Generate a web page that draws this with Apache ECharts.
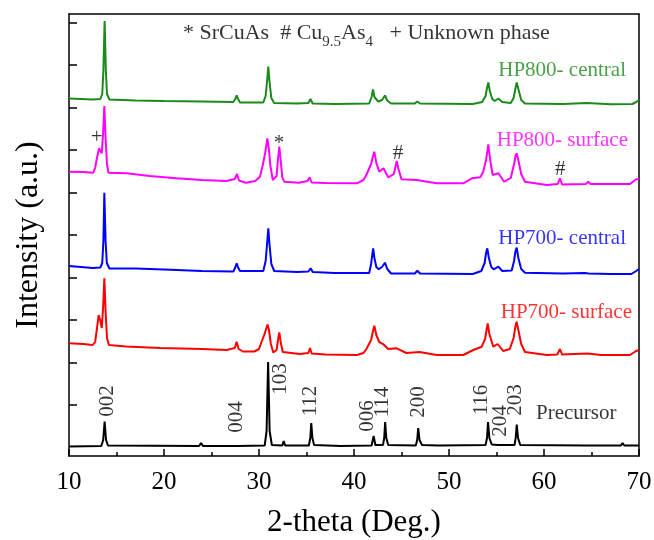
<!DOCTYPE html>
<html><head><meta charset="utf-8">
<script src="https://cdn.jsdelivr.net/npm/echarts@6/dist/echarts.min.js"></script>
<style>html,body{margin:0;padding:0;background:#fff}#c{width:654px;height:540px}</style>
</head><body><div id="c"></div>
<script>
// XRD patterns: [2-theta (deg), intensity (a.u., stacked as plotted)]
const hp800Central = [[10,357.5],[12.5,356.5],[13.3,357],[13.5,362],[13.62,385],[13.75,435],[13.88,385],[14.0,362],[14.25,356.5],[17,355.5],[20,355],[24,354.5],[27.3,354],[27.5,357],[27.65,360.5],[27.8,357],[28.0,353.5],[30.45,353.5],[30.7,360],[30.85,375],[30.98,389.5],[31.1,375],[31.3,358],[31.6,353],[34,352.5],[35.2,353],[35.42,357],[35.65,352.5],[38,352],[41.6,352.5],[41.85,359],[42.0,366.5],[42.15,359],[42.55,354.5],[42.95,356],[43.26,360.5],[43.5,355.5],[43.9,352.5],[46.4,352.5],[46.67,354.5],[46.95,352.5],[52.5,352],[53.5,354],[53.85,360],[54.0,368],[54.14,373.5],[54.3,365],[54.55,357],[54.8,355],[55.2,357.5],[55.6,354],[56.5,353],[56.8,358],[57.0,368],[57.13,373.5],[57.3,367],[57.6,356],[58.0,352.5],[62,352],[64.5,353],[67,351.7],[69.3,352],[69.7,354],[70,356]];
const hp800Surface = [[10,284.3],[11.5,284],[12.56,283.3],[12.75,288],[12.9,296],[13.16,307.7],[13.3,305],[13.45,302.7],[13.6,325],[13.72,350],[13.85,318],[14.0,292],[14.15,283.3],[16.07,282.7],[18.5,280],[21.3,277.7],[24,276],[26.6,275],[27.45,277],[27.68,282],[27.9,275.5],[28.6,273.3],[29.6,275],[30.1,279.3],[30.4,291],[30.65,303],[30.88,317.5],[31.05,306],[31.2,290],[31.45,276],[31.85,280],[32.0,297],[32.14,309.3],[32.28,296],[32.45,279],[32.65,274.3],[34.2,273.3],[35.1,275],[35.33,278.7],[35.55,273.5],[37,273],[40.3,272.7],[41.0,276],[41.3,281],[41.8,292],[42.0,300],[42.14,304.3],[42.35,293],[42.66,284.3],[43.1,287.7],[43.6,278.7],[44.2,282],[44.38,290],[44.5,295],[44.65,288],[45.0,276.7],[46.6,276],[48.7,272.7],[51.5,272.7],[52.4,277.7],[53.3,278.7],[53.6,284.3],[53.9,296],[54.14,311.7],[54.35,295],[54.6,281],[55.2,282.7],[55.8,274.3],[56.5,278],[56.85,292],[57.0,300],[57.12,302.7],[57.3,296],[57.6,282],[58.0,274.3],[60.3,271],[61.45,272],[61.68,277.7],[61.9,271.5],[64.4,272],[64.66,274.3],[64.9,272],[69.05,272],[69.7,276.7],[70,277]];
const hp700Central = [[10,190],[12.5,188],[13.3,188.5],[13.5,193],[13.62,215],[13.72,263.3],[13.85,215],[13.98,193],[14.25,187.5],[17,187.5],[20,186.5],[24,185],[27.3,184.5],[27.5,188.5],[27.65,192.7],[27.8,188.5],[28.0,185],[30.45,185],[30.7,195],[30.85,212],[30.98,227.7],[31.1,212],[31.3,192],[31.6,185],[34,184],[35.2,184.5],[35.44,187.7],[35.65,184],[38,183],[41.6,183],[41.8,192],[41.95,203],[42.02,207.7],[42.15,198],[42.35,189],[42.6,186.7],[42.95,189],[43.26,193.3],[43.5,187],[43.9,182.5],[46.4,182.5],[46.67,185.3],[46.95,182.5],[52.5,182],[53.4,185],[53.75,193],[53.9,203],[54.03,207.7],[54.2,198],[54.45,189],[54.7,186.7],[55.2,189.3],[55.6,185],[56.6,185.5],[56.85,195],[57.0,205],[57.13,208.3],[57.3,198],[57.6,187],[58.0,183.3],[62,182.5],[64.3,183],[64.5,184.5],[64.7,182.5],[67,182],[69.2,182],[69.7,185],[70,187]];
const hp700Surface = [[10,112.7],[11.5,112],[12.5,111],[12.75,114],[12.95,128],[13.12,141],[13.3,135],[13.45,128],[13.6,150],[13.72,177.7],[13.85,145],[14.0,118],[14.2,111],[16,109.5],[19.6,108],[24,107],[26.6,106],[27.45,108],[27.65,114.3],[27.85,107],[28.3,104.5],[29.5,104.5],[30.0,107],[30.28,114.5],[30.55,121],[30.75,127],[30.9,131.5],[31.05,126],[31.25,112],[31.5,103.5],[31.85,106],[32.0,116],[32.14,123.7],[32.28,114],[32.5,104],[34.3,102],[35.2,103],[35.37,108],[35.55,102.5],[37,101.5],[40.3,101],[41.0,103],[41.3,107],[41.8,116],[42.0,125],[42.14,130.3],[42.35,121],[42.66,114],[43.1,111.7],[43.6,107],[44.5,107.7],[45.5,103],[46.9,104],[48.7,101],[51.5,101],[52.56,106],[53.44,109.3],[53.8,117],[53.95,126],[54.07,132.7],[54.25,122],[54.66,109.3],[55.12,112],[55.7,105],[56.4,107],[56.8,118],[57.0,130],[57.12,134.3],[57.3,126],[57.6,112],[58.0,104],[60.3,101],[61.4,101.5],[61.68,107],[61.9,101.5],[64.6,102.5],[66,101],[69.05,101],[69.7,105],[70,106]];
const precursor = [[10,9.5],[13.4,10],[13.6,16],[13.75,34.5],[13.9,16],[14.1,10.5],[23.7,10],[23.9,13],[24.1,10],[27.5,10],[27.64,12],[27.8,10],[30.6,10.5],[30.8,25],[30.96,94],[31.12,25],[31.35,11],[32.45,10.5],[32.6,15],[32.75,10.5],[35.25,10.5],[35.4,18],[35.5,33],[35.62,18],[35.8,11],[38.6,10],[38.7,12],[38.8,10],[41.85,10.5],[42.07,20],[42.25,11],[43.05,11],[43.18,18],[43.28,34],[43.4,18],[43.6,11],[46.5,10.5],[46.65,16],[46.76,28],[46.9,16],[47.15,11],[48.8,10.5],[48.9,12],[49.05,10.5],[53.85,11],[54.0,18],[54.11,34],[54.25,18],[54.5,11.5],[55.15,11],[55.25,13],[55.4,11],[56.9,11],[57.02,18],[57.13,31.5],[57.27,18],[57.5,11],[64.45,10.5],[64.6,12],[64.75,10.5],[68.1,10.5],[68.27,13],[68.45,10.5],[70,10.5]];

const patternNames = ['HP800- central','HP800- surface','HP700- central','HP700- surface','Precursor'];
const patternColors = ['#1a8a1a','#ff00ff','#0000ff','#ff0000','#000000'];
// name label anchor [2-theta, intensity]
const nameLabelPos = [[68.63,386],[68.84,316],[68.63,218],[69.26,144],[59.16,43]];
// hkl index labels of the precursor: [text, 2-theta, intensity]
const hklLabels = [['002',14.0,55],['004',27.58,39],['103',32.3,77],['112',35.47,55],['006',41.37,40],['114',43.05,54],['200',46.74,54],['116',53.37,56],['204',55.37,35],['203',57.05,56]];
// phase markers: [symbol, 2-theta, intensity]
const phaseMarks = [['+',12.9,319],['*',32.1,313],['#',44.63,303],['#',61.7,287]];
const noteAnchor = [22.0,423];
const yTicks = [51,93.5,136,178.5,221,263.5,306,348.5,391,433.5];

const FONT = 'Liberation Serif, Times New Roman, serif';
const patterns = [hp800Central,hp800Surface,hp700Central,hp700Surface,precursor];

const series = patterns.map((d,i)=>({
  type:'line', name:patternNames[i], data:d, showSymbol:false, symbol:'none',
  lineStyle:{color:patternColors[i], width:2}, itemStyle:{color:patternColors[i]},
  silent:true, z:2
}));

series.push({
  type:'scatter', symbolSize:0, silent:true, z:5,
  data: patternNames.map((n,i)=>({name:n, value:nameLabelPos[i],
    label:{show:true, position:'inside', formatter:'{b}', color:patternColors[i],
      align: i===4 ? 'left' : 'right', verticalAlign:'middle',
      fontFamily:FONT, fontSize:21}}))
});
series.push({
  type:'scatter', symbolSize:0, silent:true, z:5,
  data: hklLabels.map(h=>({name:h[0], value:[h[1],h[2]]})),
  label:{show:true, position:'inside', formatter:'{b}', rotate:90, color:'#000',
    fontFamily:FONT, fontSize:21, align:'center', verticalAlign:'middle'}
});
series.push({
  type:'scatter', symbolSize:0, silent:true, z:5,
  data: phaseMarks.map(h=>({name:h[0], value:[h[1],h[2]]})),
  label:{show:true, position:'inside', formatter:'{b}', color:'#000',
    fontFamily:FONT, fontSize:21, align:'center', verticalAlign:'middle'}
});
series.push({
  type:'scatter', symbolSize:0, silent:true, z:5,
  data:[{name:'note', value:noteAnchor}],
  label:{show:true, position:'inside', align:'left', verticalAlign:'middle',
    formatter:'{m|* SrCuAs  # Cu}{s|9.5}{m|As}{s|4}{m|   + Unknown phase}',
    rich:{
      m:{fontFamily:FONT, fontSize:22, color:'#000'},
      s:{fontFamily:FONT, fontSize:15, color:'#000', padding:[18,0,0,0]}
    }}
});

const chart = echarts.init(document.getElementById('c'), null, {renderer:'canvas'});
chart.setOption({
  animation:false,
  backgroundColor:'#fff',
  grid:{left:69, right:15, top:14, bottom:84, containLabel:false, outerBoundsMode:'none'},
  xAxis:[{
    type:'value', min:10, max:70, interval:10,
    name:'2-theta (Deg.)', nameLocation:'middle', nameGap:51,
    nameTextStyle:{fontFamily:FONT, fontSize:31, color:'#000'},
    axisLine:{lineStyle:{color:'#000', width:1.5}},
    axisTick:{inside:true, length:7, lineStyle:{color:'#000', width:1.5}},
    minorTick:{show:true, splitNumber:2, length:4, lineStyle:{color:'#000', width:1.5}},
    axisLabel:{fontFamily:FONT, fontSize:25, color:'#000', margin:14},
    splitLine:{show:false}
  },{
    type:'value', min:10, max:70, position:'top',
    axisLine:{show:true, onZero:false, lineStyle:{color:'#000', width:1.5}},
    axisTick:{show:false}, axisLabel:{show:false}, splitLine:{show:false}
  }],
  yAxis:[{
    type:'value', min:0, max:442,
    name:'Intensity (a.u.)', nameLocation:'middle', nameGap:24,
    nameTextStyle:{fontFamily:FONT, fontSize:32, color:'#000'},
    axisLine:{show:true, lineStyle:{color:'#000', width:1.5}},
    axisTick:{show:true, inside:true, length:8, customValues:yTicks, lineStyle:{color:'#000', width:1.5}},
    axisLabel:{show:false}, splitLine:{show:false}
  },{
    type:'value', min:0, max:442, position:'right',
    axisLine:{show:true, onZero:false, lineStyle:{color:'#000', width:1.5}},
    axisTick:{show:false}, axisLabel:{show:false}, splitLine:{show:false}
  }],
  series
});
</script></body></html>
